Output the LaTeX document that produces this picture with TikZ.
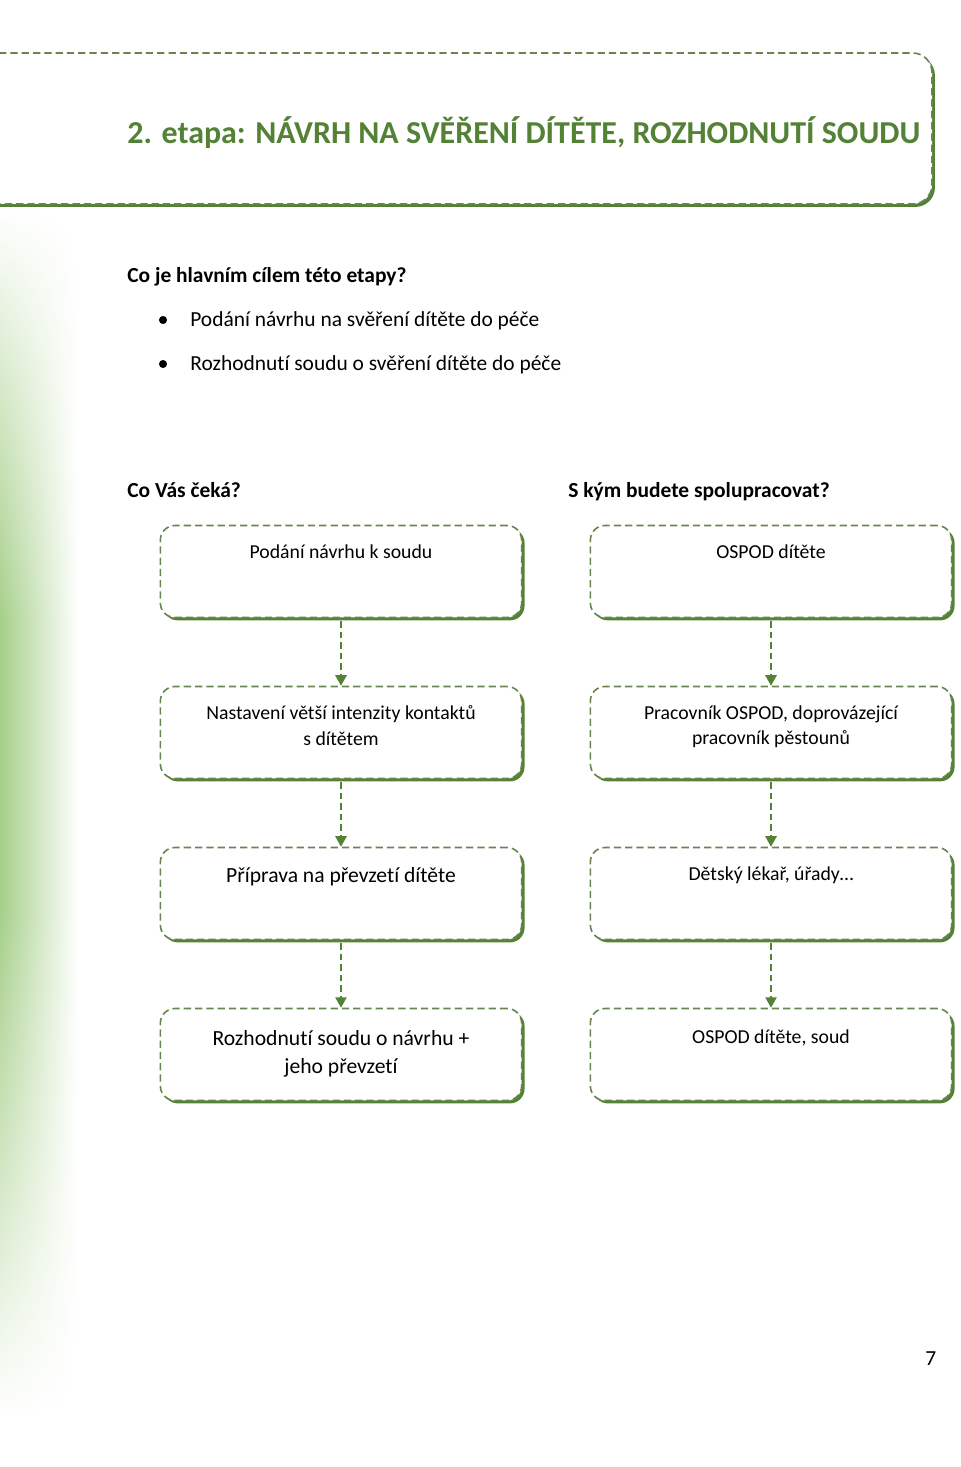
\documentclass[tikz,border=0pt]{standalone}
\usepackage{fontspec}
\setmainfont{Carlito}[Ligatures=NoCommon]
\usetikzlibrary{arrows.meta,shadows,fadings,calc}
\definecolor{titlegreen}{RGB}{83,129,53}
\definecolor{dashgreen}{RGB}{104,133,80}
\definecolor{shadowgreen}{RGB}{84,130,53}
\definecolor{sidegreen}{RGB}{166,207,138}
\pgfdeclareverticalshading{sidefade}{100bp}{color(0bp)=(white); color(25bp)=(white); color(36bp)=(sidegreen!55); color(46bp)=(sidegreen); color(58bp)=(sidegreen); color(68bp)=(sidegreen!45); color(75bp)=(white); color(100bp)=(white)}
\tikzfading[name=side fade, left color=transparent!0, middle color=transparent!25, right color=transparent!100]
\tikzset{
  stepbox/.style={draw=dashgreen, fill=white, line width=1pt, dash pattern=on 4.5pt off 2.5pt,
    rounded corners=9pt, minimum width=224pt, minimum height=57pt,
    drop shadow={shadow xshift=1.8pt, shadow yshift=-1.8pt, fill=shadowgreen, opacity=1}},
  boxtext/.style={anchor=north, align=center, inner sep=0pt, font=\fontsize{12.25}{16}\selectfont},
  bigtext/.style={boxtext, font=\fontsize{13.4}{17.4}\selectfont},
  flow/.style={draw=shadowgreen, line width=1.1pt, dash pattern=on 4pt off 2.5pt,
    -{Triangle[width=7pt,length=6.5pt]}},
  heading/.style={anchor=base west, inner sep=0pt, font=\fontsize{13.3}{15}\selectfont\bfseries},
  plain/.style={anchor=base west, inner sep=0pt, font=\fontsize{13.3}{15}\selectfont},
  bulletdot/.style={circle, fill=black, inner sep=0pt, minimum size=5pt},
}

\begin{document}
\begin{tikzpicture}[x=0.62pt, y=-0.62pt]
		%%%%% START %%%%%
		\useasboundingbox (0,0) rectangle (960,1467);
		\clip (0,0) rectangle (960,1467);
		
		% green strip on the left
		\shade[shading=sidefade, path fading=side fade] (0,207) rectangle (78,1420);
		
		% title frame
		\path[fill=white, rounded corners=12pt, drop shadow={shadow xshift=1.8pt, shadow yshift=-1.8pt, fill=shadowgreen, opacity=1}] (-30,53) rectangle (932,204);
		\draw[dashgreen, line width=1pt, dash pattern=on 4.5pt off 2.5pt, rounded corners=12pt] (-30,53) rectangle (932,204);
		\node[anchor=base west, inner sep=0pt, text=titlegreen, font=\fontsize{19.8}{22}\selectfont\bfseries] (title) at (127,144) {2. etapa: NÁVRH NA SVĚŘENÍ DÍTĚTE, ROZHODNUTÍ SOUDU};
		
		% goals
		\node[heading] (goal) at (127,283) {Co je hlavním cílem této etapy?};
		\node[bulletdot] (b1) at (163,320) {};
		\node[plain] (g1) at (190,327) {Podání návrhu na svěření dítěte do péče};
		\node[bulletdot] (b2) at (163,364) {};
		\node[plain] (g2) at (190,371) {Rozhodnutí soudu o svěření dítěte do péče};
		
		\node[heading] (wait) at (127,497) {Co Vás čeká?};
		\node[heading] (who) at (568,497) {S kým budete spolupracovat?};
		
		% left column
		\node[stepbox] (l1) at (341,571.5) {};
		\node[boxtext] (l1t) at ([yshift=-12pt]l1.north) {Podání návrhu k soudu};
		\node[stepbox] (l2) at (341,732.5) {};
		\node[boxtext] (l2t) at ([yshift=-12pt]l2.north) {Nastavení větší intenzity kontaktů\\s dítětem};
		\node[stepbox] (l3) at (341,893.5) {};
		\node[bigtext] (l3t) at ([yshift=-12.5pt]l3.north) {Příprava na převzetí dítěte};
		\node[stepbox] (l4) at (341,1054.5) {};
		\node[bigtext] (l4t) at ([yshift=-14pt]l4.north) {Rozhodnutí soudu o návrhu +\\jeho převzetí};
		
		% right column
		\node[stepbox] (r1) at (771,571.5) {};
		\node[boxtext] (r1t) at ([yshift=-12pt]r1.north) {OSPOD dítěte};
		\node[stepbox] (r2) at (771,732.5) {};
		\node[boxtext] (r2t) at ([yshift=-12pt]r2.north) {Pracovník OSPOD, doprovázející\\pracovník pěstounů};
		\node[stepbox] (r3) at (771,893.5) {};
		\node[boxtext] (r3t) at ([yshift=-12pt]r3.north) {Dětský lékař, úřady…};
		\node[stepbox] (r4) at (771,1054.5) {};
		\node[boxtext] (r4t) at ([yshift=-13.5pt]r4.north) {OSPOD dítěte, soud};
		
		% arrows
		\foreach \a/\b in {l1/l2,l2/l3,l3/l4,r1/r2,r2/r3,r3/r4}
			\draw[flow] ([yshift=-1.8pt]\a.south) -- (\b.north);
		
		\node[plain] (page) at (925,1365) {7};
		%%%%% END %%%%%
\end{tikzpicture}
\end{document}
